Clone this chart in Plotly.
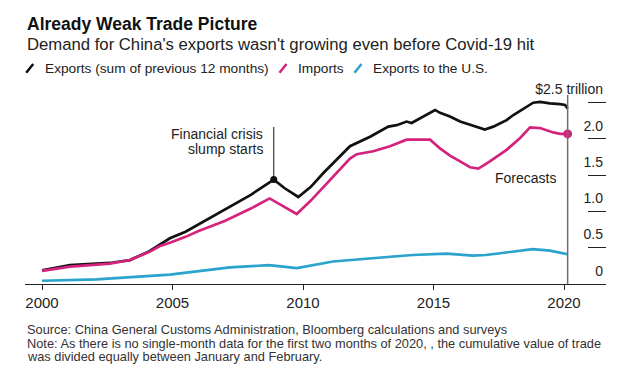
import plotly.graph_objects as go

# ---------------- data (trillions of USD) ----------------
series_names = ["Exports (sum of previous 12 months)", "Imports", "Exports to the U.S."]
series_colors = ["#111111", "#d4237c", "#2ba3cc"]

exports_x = [2000.0, 2001.07, 2002.6, 2003.37, 2004.1, 2004.5, 2004.9, 2005.5, 2006.0, 2007.0,
             2008.0, 2008.88, 2009.3, 2009.82, 2010.3, 2010.78, 2011.3, 2011.8, 2012.57, 2013.27,
             2013.59, 2013.97, 2014.16, 2014.61, 2015.06, 2015.25, 2015.63, 2016.02, 2016.53,
             2016.97, 2017.29, 2017.8, 2018.06, 2018.44, 2018.82, 2019.08, 2019.46, 2019.85,
             2020.04, 2020.14]
exports_y = [0.19, 0.26, 0.29, 0.33, 0.45, 0.54, 0.63, 0.72, 0.82, 1.03,
             1.23, 1.44, 1.32, 1.20, 1.34, 1.53, 1.72, 1.90, 2.03, 2.17,
             2.19, 2.24, 2.22, 2.31, 2.40, 2.36, 2.31, 2.24, 2.18,
             2.13, 2.17, 2.26, 2.33, 2.42, 2.50, 2.51, 2.49, 2.48,
             2.47, 2.42]

imports_x = [2000.0, 2001.07, 2002.6, 2003.37, 2004.1, 2004.5, 2004.9, 2005.5, 2006.0, 2007.0,
             2008.0, 2008.72, 2009.2, 2009.76, 2010.3, 2010.78, 2011.3, 2011.8, 2012.06, 2012.69,
             2013.33, 2013.97, 2014.35, 2014.87, 2015.25, 2015.63, 2016.02, 2016.4, 2016.72,
             2017.16, 2017.8, 2018.31, 2018.7, 2019.08, 2019.59, 2019.85, 2020.14]
imports_y = [0.18, 0.24, 0.28, 0.33, 0.44, 0.52, 0.57, 0.65, 0.73, 0.87,
             1.04, 1.18, 1.08, 0.965, 1.15, 1.34, 1.54, 1.73, 1.79, 1.83,
             1.90, 1.99, 1.99, 1.99, 1.87, 1.77, 1.69, 1.61, 1.59,
             1.69, 1.85, 2.01, 2.16, 2.15, 2.09, 2.07, 2.07]

us_x = [2000.0, 2002.1, 2004.9, 2007.2, 2008.7, 2009.76, 2011.15, 2012.7, 2014.2, 2015.5,
        2016.5, 2017.0, 2018.06, 2018.8, 2019.46, 2020.14]
us_y = [0.045, 0.065, 0.13, 0.23, 0.26, 0.22, 0.31, 0.36, 0.40, 0.42,
        0.39, 0.40, 0.445, 0.48, 0.46, 0.41]

crisis_year = 2008.88
forecast_year = 2020.14

x_tickvals = [2000, 2005, 2010, 2015, 2020]
y_tickvals = [0, 0.5, 1.0, 1.5, 2.0, 2.5]
y_ticktext = ["0", "0.5", "1.0", "1.5", "2.0", "$2.5 trillion"]

title = "Already Weak Trade Picture"
subtitle = "Demand for China's exports wasn't growing even before Covid-19 hit"
source_lines = [
    "Source: China General Customs Administration, Bloomberg calculations and surveys",
    "Note: As there is no single-month data for the first two months of 2020, , the cumulative value of trade",
    "was divided equally between January and February.",
]

# ---------------- layout geometry ----------------
W, H = 630, 373
L, R, T, B = 25, 606, 80, 284
SCALE = 72.52            # px per trillion
FONT = "Liberation Sans, Arial, sans-serif"
X_RANGE = [2000 - (42 - L) / 26.1, 2000 + (R - 42) / 26.1]
Y_RANGE = [0, (B - T) / SCALE]


def px(x):
    return (x - L) / (R - L)


def py(y):
    return (B - y) / (B - T)


def val(ypix):
    return (B - ypix) / SCALE


fig = go.Figure()

fig.add_trace(go.Scatter(x=us_x, y=us_y, mode="lines",
                         line=dict(color=series_colors[2], width=2.7), showlegend=False,
                         hoverinfo="skip"))
fig.add_trace(go.Scatter(x=exports_x, y=exports_y, mode="lines",
                         line=dict(color=series_colors[0], width=2.7), showlegend=False,
                         hoverinfo="skip"))
fig.add_trace(go.Scatter(x=imports_x, y=imports_y, mode="lines",
                         line=dict(color=series_colors[1], width=2.7), showlegend=False,
                         hoverinfo="skip"))

# crisis dot on exports series
ci = exports_x.index(crisis_year)
fig.add_trace(go.Scatter(x=[exports_x[ci]], y=[exports_y[ci]], mode="markers",
                         marker=dict(color="#111111", size=7), showlegend=False, hoverinfo="skip"))
# last imports point dot
fig.add_trace(go.Scatter(x=[imports_x[-1]], y=[imports_y[-1]], mode="markers",
                         marker=dict(color=series_colors[1], size=9), showlegend=False,
                         hoverinfo="skip"))
# empty helper trace so the right-hand value axis (y2 on x2) exists
fig.add_trace(go.Scatter(x=[None], y=[None], xaxis="x2", yaxis="y2", mode="lines",
                         showlegend=False, hoverinfo="skip"))

shapes = [
    dict(type="line", xref="x", yref="y", x0=forecast_year, x1=forecast_year,
         y0=0, y1=val(95), line=dict(color="#6e6e6e", width=1.5)),
    dict(type="line", xref="x", yref="y", x0=exports_x[ci], x1=exports_x[ci],
         y0=exports_y[ci], y1=val(127), line=dict(color="#111111", width=1)),
]

annotations = [
    dict(text="<b>" + title + "</b>", x=px(25), y=py(23.5), xref="paper", yref="paper",
         xanchor="left", yanchor="middle", showarrow=False,
         font=dict(size=17.5, color="#111111", family=FONT)),
    dict(text=subtitle, x=px(25), y=py(44.5), xref="paper", yref="paper",
         xanchor="left", yanchor="middle", showarrow=False,
         font=dict(size=16.7, color="#222222", family=FONT)),
    dict(text="Financial crisis", x=px(265), y=py(134), xref="paper", yref="paper",
         xanchor="right", yanchor="middle", showarrow=False,
         font=dict(size=14, color="#222222", family=FONT)),
    dict(text="slump starts", x=px(265), y=py(148.5), xref="paper", yref="paper",
         xanchor="right", yanchor="middle", showarrow=False,
         font=dict(size=14, color="#222222", family=FONT)),
    dict(text="Forecasts", x=px(558), y=py(177.5), xref="paper", yref="paper",
         xanchor="right", yanchor="middle", showarrow=False,
         font=dict(size=14, color="#222222", family=FONT)),
]

for line_text, yy in zip(source_lines, [329.3, 343, 356.7]):
    annotations.append(dict(text=line_text, x=px(25), y=py(yy), xref="paper", yref="paper",
                            xanchor="left", yanchor="middle", showarrow=False,
                            font=dict(size=12.8, color="#333333", family=FONT)))

# custom legend with slanted line icons
legend_text_x = [42.7, 296, 371]
for name, col, tx in zip(series_names, series_colors, legend_text_x):
    annotations.append(dict(text=name, x=px(tx), y=py(68.5), xref="paper", yref="paper",
                            xanchor="left", yanchor="middle", showarrow=False,
                            font=dict(size=13.7, color="#222222", family=FONT)))
    shapes.append(dict(type="line", xref="paper", yref="paper",
                       x0=px(tx - 16.5), y0=py(72.7), x1=px(tx - 9.5), y1=py(64),
                       line=dict(color=col, width=2.5)))

fig.update_layout(
    width=W, height=H,
    margin=dict(l=L, r=W - R, t=T, b=H - B),
    plot_bgcolor="white", paper_bgcolor="white",
    font=dict(family=FONT, color="#222222"),
    showlegend=False,
    shapes=shapes,
    annotations=annotations,
    xaxis=dict(range=X_RANGE,
               tickvals=x_tickvals, ticktext=[str(v) for v in x_tickvals],
               ticks="outside", ticklen=5, tickcolor="#222222", tickwidth=1,
               showline=True, linecolor="#222222", linewidth=1.2,
               showgrid=False, zeroline=False,
               tickfont=dict(size=15, color="#222222", family=FONT)),
    yaxis=dict(range=Y_RANGE, showticklabels=False, ticks="",
               showgrid=False, zeroline=False, showline=False),
    xaxis2=dict(range=X_RANGE, overlaying="x", anchor="y2", visible=False),
    yaxis2=dict(range=Y_RANGE, overlaying="y", anchor="x2", side="right",
                tickvals=y_tickvals, ticktext=y_ticktext,
                ticks="inside", ticklen=18, tickcolor="#222222", tickwidth=1,
                ticklabelposition="inside top", ticklabelshift=-3,
                showgrid=False, zeroline=False, showline=False,
                tickfont=dict(size=14, color="#222222", family=FONT)),
)

fig.write_html("out.html", config={"displayModeBar": False},
               post_script="document.body.style.margin='0';")
